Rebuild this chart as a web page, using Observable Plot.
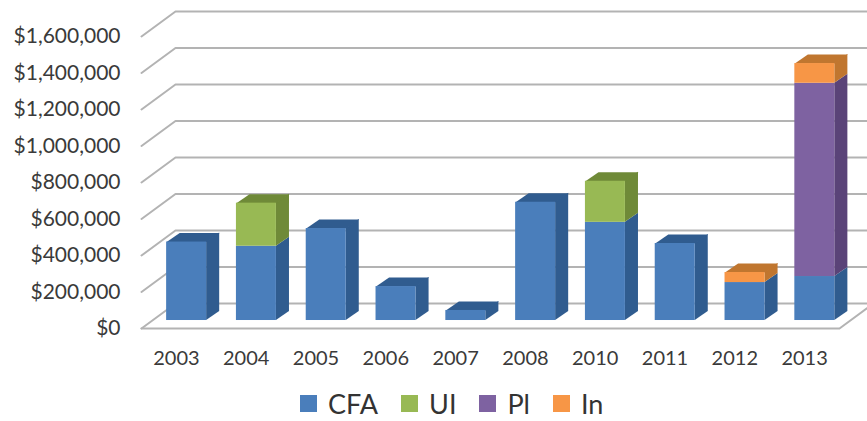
<!DOCTYPE html>
<html>
<head>
<meta charset="utf-8">
<script src="https://cdn.jsdelivr.net/npm/d3@7"></script>
<script src="https://cdn.jsdelivr.net/npm/@observablehq/plot@0.6"></script>
<style>
  html, body { margin: 0; padding: 0; background: #fff; }
  body { width: 867px; height: 421px; overflow: hidden; font-family: Lato, sans-serif; }
  #legend { display: flex; align-items: center; height: 36px; margin-top: 6px; padding-left: 300px; font-size: 27px; color: #333; }
  #legend span.sw { display: inline-block; width: 17px; height: 17px; margin-right: 11px; }
  #legend span.lb { margin-right: 23px; }
</style>
</head>
<body>
<div id="chart"></div>
<div id="legend"></div>
<script>
const years = ["2003","2004","2005","2006","2007","2008","2010","2011","2012","2013"];
const CFA = [430000,407000,504000,186000,55000,648000,538000,422000,208000,241000];
const UI  = [0,236000,0,0,0,0,225000,0,0,0];
const Pl  = [0,0,0,0,0,0,0,0,0,1059000];
const In  = [0,0,0,0,0,0,0,0,55000,108000];
const tickValues = [0,200000,400000,600000,800000,1000000,1200000,1400000,1600000];

const seriesNames = ["CFA","UI","Pl","In"];
const seriesValues = [CFA,UI,Pl,In];
const frontColors = ["#4a7ebb","#98b954","#7e62a1","#f79646"];
const darkColors  = ["#305c8f","#6f8a38","#5a4378","#c0762f"];

// 3D projection expressed in data units of the two scales
const wallDX = 0.487, wallDY = 137000;     // floor depth
const barInset = 0.36, barW = 0.573;       // bar position within its category
const barLift = 43800;                     // bar plane above the front of the floor
const barDX = 0.187, barDY = 49300;        // bar depth
const xEnd = 10.5;

const segs = [];
years.forEach((year, i) => {
  let base = 0;
  const topIdx = seriesValues.map(s => s[i] > 0).lastIndexOf(true);
  seriesValues.forEach((s, k) => {
    if (s[i] > 0) {
      segs.push({year, k, isTop: k === topIdx, id: year + k,
        x1: i + barInset, x2: i + barInset + barW,
        y1: base + barLift, y2: base + s[i] + barLift});
      base += s[i];
    }
  });
});

const grid = tickValues.flatMap(v => [
  {v, x: 0, y: v},
  {v, x: wallDX, y: v + wallDY},
  {v, x: xEnd, y: v + wallDY}
]);
const floor = [{x: 0, y: 0}, {x: 10, y: 0}, {x: 10 + wallDX, y: wallDY}];

const marks = [
  Plot.line(grid, {x: "x", y: "y", z: "v", stroke: "#b3b3b3", strokeWidth: 2, curve: "linear"}),
  Plot.line(floor, {x: "x", y: "y", stroke: "#b3b3b3", strokeWidth: 2, curve: "linear"})
];

seriesNames.forEach((name, k) => {
  const own = segs.filter(d => d.k === k);
  const side = own.flatMap(d => [
    {id: d.id, x: d.x2, y1: d.y1, y2: d.y2},
    {id: d.id, x: d.x2 + barDX, y1: d.y1 + barDY, y2: d.y2 + barDY}
  ]);
  const top = own.filter(d => d.isTop).flatMap(d => [
    {id: d.id, x: d.x1, y: d.y2},
    {id: d.id, x: d.x2, y: d.y2},
    {id: d.id, x: d.x2 + barDX, y: d.y2 + barDY},
    {id: d.id, x: d.x1 + barDX, y: d.y2 + barDY},
    {id: d.id, x: d.x1, y: d.y2}
  ]);
  marks.push(
    Plot.areaY(side, {x: "x", y1: "y1", y2: "y2", z: "id", fill: darkColors[k], curve: "linear"}),
    Plot.line(top, {x: "x", y: "y", z: "id", fill: darkColors[k], stroke: "none", curve: "linear"}),
    Plot.rect(own, {x1: "x1", x2: "x2", y1: "y1", y2: "y2", fill: frontColors[k]})
  );
});

marks.push(
  Plot.axisY({ticks: tickValues, tickSize: 0, tickPadding: 21, tickFormat: d3.format("$,"), label: null,
    fontSize: 21, fill: "#3a3a3a"}),
  Plot.axisX({ticks: years.map((_, i) => i + 0.5), tickSize: 0, tickPadding: 22, label: null,
    tickFormat: v => years[Math.floor(v)], fontSize: 20, fill: "#3a3a3a"})
);

const chart = Plot.plot({
  width: 867,
  height: 379,
  marginLeft: 141,
  marginRight: 28,
  marginTop: 36,
  marginBottom: 51,
  style: {fontFamily: "Lato, sans-serif", background: "#fff", display: "block"},
  x: {type: "linear", domain: [0, 10], axis: null},
  y: {domain: [0, 1600000], axis: null},
  marks
});
document.getElementById("chart").appendChild(chart);

const legend = document.getElementById("legend");
seriesNames.forEach((name, k) => {
  const sw = document.createElement("span");
  sw.className = "sw";
  sw.style.background = frontColors[k];
  const lb = document.createElement("span");
  lb.className = "lb";
  lb.textContent = name;
  legend.append(sw, lb);
});
</script>
</body>
</html>
